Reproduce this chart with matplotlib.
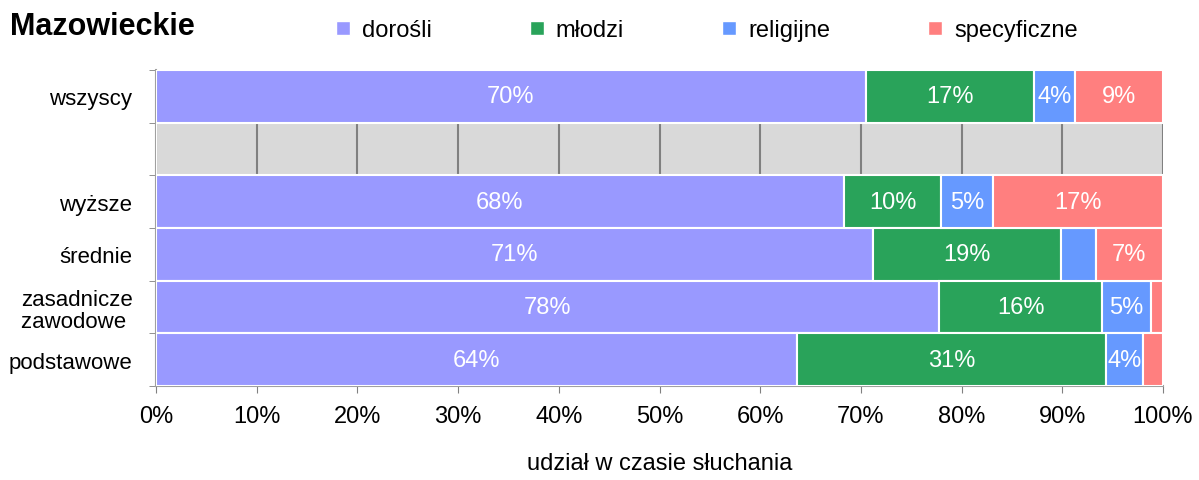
import numpy as np
import matplotlib
matplotlib.use('Agg')
import matplotlib.pyplot as plt
from matplotlib.lines import Line2D

plt.rcParams['font.family'] = ['Liberation Sans Narrow', 'Liberation Sans', 'DejaVu Sans']

# rows from top to bottom; '' is the empty grey gap row
rows = ['wszyscy', '', 'wyższe', 'średnie', 'zasadnicze\nzawodowe ', 'podstawowe']
series = ['dorośli', 'młodzi', 'religijne', 'specyficzne']
colors = ['#9999FF', '#29A35A', '#6699FF', '#FF7F7F']

dorosli = [70.5, 0, 68.3, 71.2, 77.8, 63.7]
mlodzi = [16.7, 0, 9.7, 18.7, 16.1, 30.6]
religijne = [4.1, 0, 5.1, 3.4, 4.9, 3.7]
specyficzne = [8.7, 0, 16.9, 6.7, 1.2, 2.0]
values = [dorosli, mlodzi, religijne, specyficzne]

fig = plt.figure(figsize=(11.99, 4.81), dpi=100)
ax = fig.add_axes([156/1199, 1-387/481, (1163-156)/1199, (387-71)/481])
ax.set_facecolor('#D9D9D9')

y = np.arange(len(rows))
left = np.zeros(len(rows))
for name, vals, col in zip(series, values, colors):
    vals = np.array(vals)
    ax.barh(y, vals, left=left, height=1.0, color=col, edgecolor='white',
            linewidth=1.5, zorder=3, label=name)
    for yi, (l, v) in enumerate(zip(left, vals)):
        if v >= 3.5:
            ax.text(l + v/2, yi, '%d%%' % round(v), ha='center', va='center',
                    color='white', fontsize=17, zorder=4)
    left = left + vals

ax.set_xlim(0, 100)
ax.set_ylim(len(rows) - 0.5, -0.5)
ax.set_xticks(np.arange(0, 101, 10))
ax.set_xticklabels(['%d%%' % v for v in range(0, 101, 10)], fontsize=17)
ax.set_yticks(y)
ax.set_yticklabels(rows, fontsize=16, linespacing=1.1)
ax.set_yticks(np.arange(-0.5, len(rows)), minor=True)
ax.tick_params(axis='y', which='major', length=0, pad=17)
ax.tick_params(axis='y', which='minor', length=5, color='#808080')
ax.tick_params(axis='x', length=5, color='#808080', pad=9)
ax.grid(axis='x', color='#808080', linewidth=1.5, zorder=1)
ax.set_axisbelow(True)
for s in ['top', 'right']:
    ax.spines[s].set_visible(False)
for s in ['left', 'bottom']:
    ax.spines[s].set_color('#A0A0A0')
    ax.spines[s].set_linewidth(1.5)
ax.set_xlabel('udział w czasie słuchania', fontsize=17, labelpad=18)

fig.text(10/1199, 1-27/481, 'Mazowieckie', fontsize=22, fontweight='bold',
         va='center', ha='left')

handles = [Line2D([], [], marker='s', linestyle='', markersize=10,
                  markerfacecolor=c, markeredgecolor='white') for c in colors]
fig.legend(handles, series, loc='center left', bbox_to_anchor=(310/1199, 1-31/481),
           ncol=4, frameon=False, fontsize=17, columnspacing=3.95,
           handletextpad=0.3, handlelength=1.0)

fig.savefig('out.png', dpi=100)
